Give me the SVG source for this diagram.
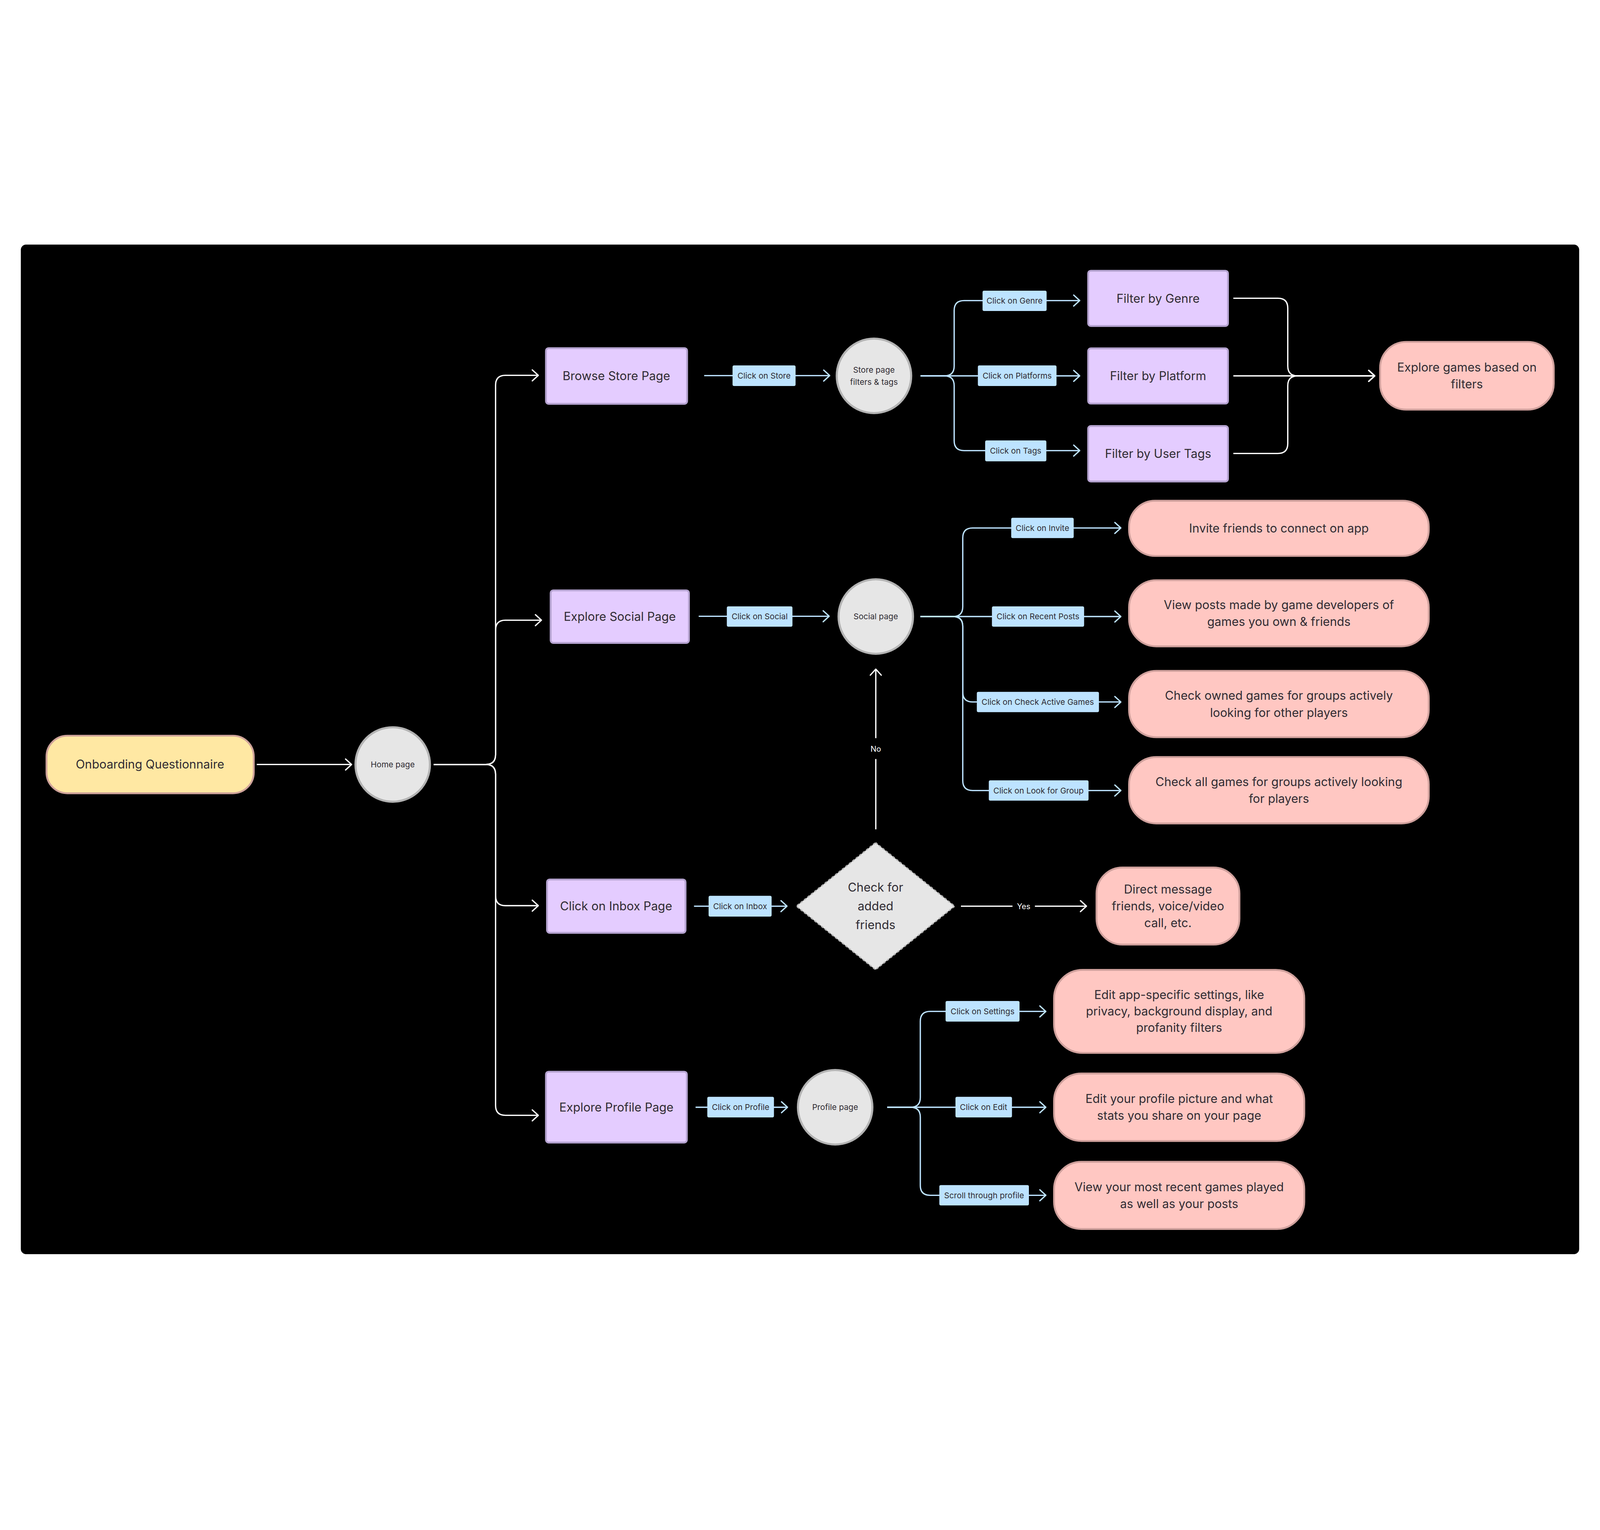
<svg xmlns="http://www.w3.org/2000/svg" width="6144" height="3916" viewBox="0 0 6144 3916" style="width:100vw;height:100vh;display:block">
<defs>
<style>
.np{fill:#E4CCFF;stroke:#B5A3D0;stroke-width:7}
.nk{fill:#FFC7C2;stroke:#CFA09C;stroke-width:7}
.ny{fill:#FFE8A3;stroke:#CFA39A;stroke-width:7}
.nc{fill:#E6E6E6;stroke:#B3B3B3;stroke-width:8}
.nd{fill:#E6E6E6;stroke:#B3B3B3;stroke-width:5;stroke-dasharray:10 7;stroke-linejoin:round}
.chip{fill:#BDE3FF}
.t{font-family:Inter,'Liberation Sans',sans-serif;fill:#302C33;text-anchor:middle}
.b{font-size:46px}
.s{font-size:31px}
.lbl{font-family:Inter,'Liberation Sans',sans-serif;fill:#FFFFFF;font-size:30px;text-anchor:middle}
.cw{fill:none;stroke:#FFFFFF;stroke-width:5}
.cb{fill:none;stroke:#BDE3FF;stroke-width:5}
.aw{marker-end:url(#mw)}
.ab{marker-end:url(#mb)}
</style>
<marker id="mw" markerUnits="userSpaceOnUse" viewBox="-30 -30 40 60" refX="0" refY="0" markerWidth="40" markerHeight="60" orient="auto" overflow="visible">
<path d="M-23,-21 L0,0 L-23,21" fill="none" stroke="#FFFFFF" stroke-width="5" stroke-linecap="round" stroke-linejoin="round"/>
</marker>
<marker id="mb" markerUnits="userSpaceOnUse" viewBox="-30 -30 40 60" refX="0" refY="0" markerWidth="40" markerHeight="60" orient="auto" overflow="visible">
<path d="M-23,-21 L0,0 L-23,21" fill="none" stroke="#BDE3FF" stroke-width="5" stroke-linecap="round" stroke-linejoin="round"/>
</marker>
</defs>
<rect x="0" y="0" width="6144" height="3916" fill="#FFFFFF"/>
<rect x="80" y="-40" width="5984" height="3876" rx="20" fill="#000000"/>

<g id="connectors">
<path class="cw aw" d="M986,1956 H1350"/>
<path class="cw aw" d="M1665,1956 H1865 Q1903,1956 1903,1918 V500 Q1903,462 1941,462 H2067"/>
<path class="cw aw" d="M1665,1956 H1865 Q1903,1956 1903,1918 V1440 Q1903,1402 1941,1402 H2079"/>
<path class="cw aw" d="M1665,1956 H1865 Q1903,1956 1903,1994 V2460 Q1903,2498 1941,2498 H2067"/>
<path class="cw aw" d="M1665,1956 H1865 Q1903,1956 1903,1994 V3265 Q1903,3303 1941,3303 H2067"/>

<path class="cb ab" d="M2704,463 H3186"/>
<path class="cb ab" d="M3535,464 H3626 Q3664,464 3664,426 V213 Q3664,175 3702,175 H4146"/>
<path class="cb ab" d="M3535,464 H4146"/>
<path class="cb ab" d="M3535,464 H3626 Q3664,464 3664,502 V713 Q3664,751 3702,751 H4146"/>

<path class="cw aw" d="M4736,166 H4907 Q4945,166 4945,204 V426 Q4945,464 4983,464 H5279"/>
<path class="cw aw" d="M4736,464 H5279"/>
<path class="cw aw" d="M4736,762 H4907 Q4945,762 4945,724 V502 Q4945,464 4983,464 H5279"/>

<path class="cb ab" d="M2683,1387 H3184"/>
<path class="cb ab" d="M3534,1388 H3659 Q3697,1388 3697,1350 V1086 Q3697,1048 3735,1048 H4304"/>
<path class="cb ab" d="M3534,1388 H4304"/>
<path class="cb ab" d="M3534,1388 H3659 Q3697,1388 3697,1426 V1678 Q3697,1716 3735,1716 H4304"/>
<path class="cb ab" d="M3534,1388 H3659 Q3697,1388 3697,1426 V2018 Q3697,2056 3735,2056 H4304"/>

<path class="cw" d="M3363,2205 V1935"/>
<path class="cw aw" d="M3363,1855 V1590"/>
<text class="lbl" x="3363" y="1907">No</text>

<path class="cb ab" d="M2665,2500 H3022"/>
<path class="cw" d="M3690,2500 H3888"/>
<path class="cw aw" d="M3974,2500 H4172"/>
<text class="lbl" x="3931" y="2511">Yes</text>

<path class="cb ab" d="M2671,3272 H3024"/>
<path class="cb ab" d="M3407,3272 H3496 Q3534,3272 3534,3234 V2942 Q3534,2904 3572,2904 H4016"/>
<path class="cb ab" d="M3407,3272 H4016"/>
<path class="cb ab" d="M3407,3272 H3496 Q3534,3272 3534,3310 V3572 Q3534,3610 3572,3610 H4016"/>

<g id="labels">
<rect class="chip" x="2813" y="424" width="242" height="79" rx="6"/>
<text class="t s" x="2934" y="475">Click on Store</text>
<rect class="chip" x="3773" y="137" width="246" height="78" rx="6"/>
<text class="t s" x="3896" y="187">Click on Genre</text>
<rect class="chip" x="3755" y="424" width="302" height="79" rx="6"/>
<text class="t s" x="3906" y="475">Click on Platforms</text>
<rect class="chip" x="3783" y="712" width="235" height="80" rx="6"/>
<text class="t s" x="3900" y="763">Click on Tags</text>
<rect class="chip" x="2791" y="1349" width="252" height="78" rx="6"/>
<text class="t s" x="2917" y="1399">Click on Social</text>
<rect class="chip" x="3883" y="1009" width="240" height="78" rx="6"/>
<text class="t s" x="4003" y="1059">Click on Invite</text>
<rect class="chip" x="3809" y="1349" width="354" height="78" rx="6"/>
<text class="t s" x="3986" y="1399">Click on Recent Posts</text>
<rect class="chip" x="3751" y="1677" width="469" height="78" rx="6"/>
<text class="t s" x="3985" y="1727">Click on Check Active Games</text>
<rect class="chip" x="3797" y="2017" width="383" height="78" rx="6"/>
<text class="t s" x="3988" y="2067">Click on Look for Group</text>
<rect class="chip" x="2721" y="2460" width="242" height="80" rx="6"/>
<text class="t s" x="2842" y="2511">Click on Inbox</text>
<rect class="chip" x="2716" y="3232" width="256" height="79" rx="6"/>
<text class="t s" x="2844" y="3283">Click on Profile</text>
<rect class="chip" x="3631" y="2864" width="284" height="79" rx="6"/>
<text class="t s" x="3773" y="2915">Click on Settings</text>
<rect class="chip" x="3669" y="3232" width="217" height="79" rx="6"/>
<text class="t s" x="3777" y="3283">Click on Edit</text>
<rect class="chip" x="3607" y="3571" width="344" height="78" rx="6"/>
<text class="t s" x="3779" y="3621">Scroll through profile</text>
</g>
</g>

<g id="onboarding">
<rect class="ny" x="178.5" y="1845.5" width="796" height="221" rx="80"/>
<text class="t b" x="576" y="1972">Onboarding Questionnaire</text>
</g>
<g id="home">
<circle class="nc" cx="1508" cy="1956" r="143"/>
<text class="t s" x="1508" y="1967">Home page</text>
</g>

<g id="browse-store">
<rect class="np" x="2096.5" y="357.5" width="542" height="214" rx="10"/>
<text class="t b" x="2367" y="481">Browse Store Page</text>
</g>
<g id="store-page">
<circle class="nc" cx="3356" cy="464" r="143"/>
<text class="t s" x="3356" y="452">Store page</text>
<text class="t s" x="3356" y="499">filters &amp; tags</text>
</g>
<g id="filter-genre">
<rect class="np" x="4178.5" y="60.5" width="537" height="212" rx="10"/>
<text class="t b" x="4447" y="183">Filter by Genre</text>
</g>
<g id="filter-platform">
<rect class="np" x="4178.5" y="358.5" width="537" height="212" rx="10"/>
<text class="t b" x="4447" y="481">Filter by Platform</text>
</g>
<g id="filter-tags">
<rect class="np" x="4178.5" y="656.5" width="537" height="213" rx="10"/>
<text class="t b" x="4447" y="779">Filter by User Tags</text>
</g>
<g id="explore-games">
<rect class="nk" x="5299.5" y="333.5" width="667" height="260" rx="100"/>
<text class="t b" x="5633" y="447">Explore games based on</text>
<text class="t b" x="5633" y="512">filters</text>
</g>

<g id="explore-social">
<rect class="np" x="2114.5" y="1287.5" width="531" height="202" rx="10"/>
<text class="t b" x="2380" y="1404">Explore Social Page</text>
</g>
<g id="social-page">
<circle class="nc" cx="3363" cy="1388" r="143"/>
<text class="t s" x="3363" y="1399">Social page</text>
</g>
<g id="invite">
<rect class="nk" x="4335.5" y="943.5" width="1151" height="212" rx="100"/>
<text class="t b" x="4911" y="1066">Invite friends to connect on app</text>
</g>
<g id="view-posts">
<rect class="nk" x="4335.5" y="1248.5" width="1151" height="254" rx="105"/>
<text class="t b" x="4911" y="1359">View posts made by game developers of</text>
<text class="t b" x="4911" y="1424">games you own &amp; friends</text>
</g>
<g id="check-owned">
<rect class="nk" x="4335.5" y="1596.5" width="1151" height="255" rx="105"/>
<text class="t b" x="4911" y="1708">Check owned games for groups actively</text>
<text class="t b" x="4911" y="1773">looking for other players</text>
</g>
<g id="check-all">
<rect class="nk" x="4335.5" y="1927.5" width="1151" height="255" rx="105"/>
<text class="t b" x="4911" y="2039">Check all games for groups actively looking</text>
<text class="t b" x="4911" y="2104">for players</text>
</g>

<g id="inbox-page">
<rect class="np" x="2100.5" y="2397.5" width="532" height="205" rx="10"/>
<text class="t b" x="2366" y="2516">Click on Inbox Page</text>
</g>
<g id="check-friends">
<polygon class="nd" points="3362,2256 3666,2500 3362,2744 3058,2500"/>
<text class="t b" x="3362" y="2444">Check for</text>
<text class="t b" x="3362" y="2516">added</text>
<text class="t b" x="3362" y="2588">friends</text>
</g>
<g id="direct-message">
<rect class="nk" x="4210.5" y="2351.5" width="549" height="296" rx="100"/>
<text class="t b" x="4485" y="2452">Direct message</text>
<text class="t b" x="4485" y="2516">friends, voice/video</text>
<text class="t b" x="4485" y="2580">call, etc.</text>
</g>

<g id="explore-profile">
<rect class="np" x="2096.5" y="3135.5" width="541" height="272" rx="10"/>
<text class="t b" x="2367" y="3288">Explore Profile Page</text>
</g>
<g id="profile-page">
<circle class="nc" cx="3207" cy="3272" r="143"/>
<text class="t s" x="3207" y="3283">Profile page</text>
</g>
<g id="edit-settings">
<rect class="nk" x="4047.5" y="2744.5" width="961" height="319" rx="110"/>
<text class="t b" x="4528" y="2857">Edit app-specific settings, like</text>
<text class="t b" x="4528" y="2920">privacy, background display, and</text>
<text class="t b" x="4528" y="2983">profanity filters</text>
</g>
<g id="edit-profile">
<rect class="nk" x="4047.5" y="3142.5" width="961" height="259" rx="105"/>
<text class="t b" x="4528" y="3256">Edit your profile picture and what</text>
<text class="t b" x="4528" y="3320">stats you share on your page</text>
</g>
<g id="recent-games">
<rect class="nk" x="4047.5" y="3481.5" width="961" height="258" rx="105"/>
<text class="t b" x="4528" y="3594">View your most recent games played</text>
<text class="t b" x="4528" y="3659">as well as your posts</text>
</g>
</svg>
